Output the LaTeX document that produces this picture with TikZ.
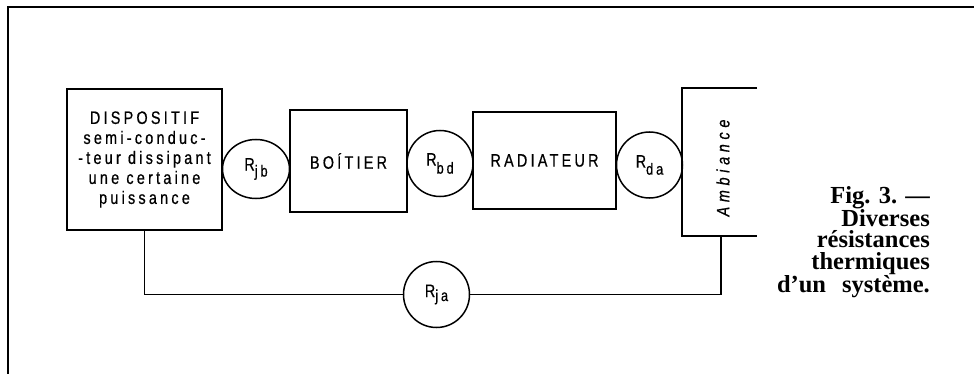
\documentclass[tikz,border=0pt]{standalone}
\usepackage{fontspec}
\setmainfont{Liberation Serif}
\newfontfamily\lettering[LetterSpace=18,FakeStretch=0.8,FakeBold=0.6]{Liberation Sans}
\newfontfamily\ambfont[LetterSpace=26,FakeStretch=0.8,FakeBold=0.6]{Liberation Sans}
\usetikzlibrary{shapes.geometric}
\newcommand\rsub[2]{R\raisebox{-#2}{\fontsize{16}{16}\selectfont #1}}
\begin{document}
\begin{tikzpicture}[x=1pt,y=-1pt,
  blockbox/.style={draw, line width=2pt, inner sep=0pt, align=center,
    font=\lettering\fontsize{18}{20}\selectfont},
  resist/.style={draw, line width=1.5pt, circle, inner sep=0pt, minimum size=66pt,
    font=\lettering\fontsize{18}{18}\selectfont},
  resistell/.style={draw, line width=1.5pt, ellipse, inner sep=0pt,
    font=\lettering\fontsize{18}{18}\selectfont},
  wire/.style={line width=1.3pt},
  framel/.style={line width=2pt},
  caption/.style={anchor=east, align=right, inner sep=0pt,
    font=\bfseries\fontsize{24.5}{21.5}\selectfont}]
\useasboundingbox (0,0) rectangle (974,374);
% frame
\draw[framel] (8,374) -- (8,7.5) -- (974,7.5);
% blocks
\node[blockbox, minimum width=155pt, minimum height=141pt] (disp) at (144.5,159.5)
  {DISPOSITIF\\semi-conduc-\\-teur dissipant\\une certaine\\puissance};
\node[resistell, minimum width=67pt, minimum height=59pt] (rjb) at (256,169) {\rsub{jb}{6pt}};
\node[blockbox, minimum width=117pt, minimum height=102pt] (boit) at (348.5,161) {BOÍTIER};
\node[resist] (rbd) at (440,163.5) {\rsub{bd}{8pt}};
\node[blockbox, minimum width=143pt, minimum height=97pt] (rad) at (544.5,160.5) {RADIATEUR};
\node[resist] (rda) at (649.5,165) {\rsub{da}{7pt}};
% ambiance
\coordinate (ambtr) at (757,88);
\coordinate (ambtl) at (682,88);
\coordinate (ambbl) at (682,236);
\coordinate (ambbr) at (757,236);
\coordinate (ambjoin) at (721,236);
\draw[line width=2pt] (ambtr) -- (ambtl) -- (ambbl) -- (ambbr);
\node[rotate=90, inner sep=0pt, font=\ambfont\itshape\fontsize{18}{18}\selectfont] (amb) at (723,168) {Ambiance};
% bottom branch
\node[resist] (rja) at (436.5,294.5) {\rsub{ja}{4pt}};
\draw[wire] (disp.south) |- (rja.west);
\draw[wire] (rja.east) -| (ambjoin);
% caption
\node[caption] (cap) at (930,242)
  {Fig. 3. —\\Diverses\\résistances\\thermiques\\d’un\hspace{16pt}système.};
\end{tikzpicture}
\end{document}
